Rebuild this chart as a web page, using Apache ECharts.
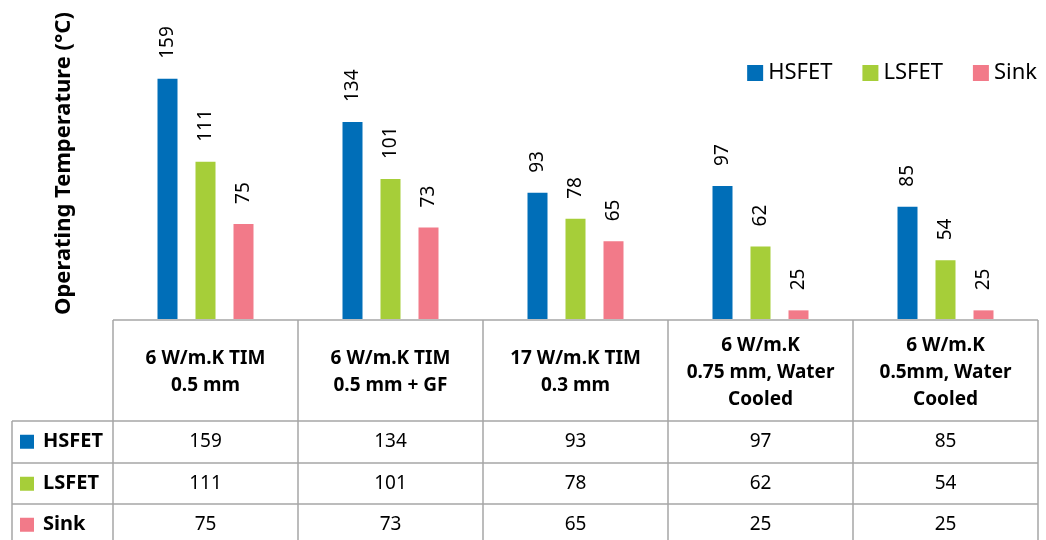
<!DOCTYPE html>
<html>
<head>
<meta charset="utf-8">
<script src="https://cdn.jsdelivr.net/npm/echarts@6/dist/echarts.min.js"></script>
<style>
  html, body { margin: 0; padding: 0; background: #fff; }
  #chart { width: 1046px; height: 540px; }
</style>
</head>
<body>
<div id="chart"></div>
<script>
// data
const categories = [
  '6 W/m.K TIM\n0.5 mm',
  '6 W/m.K TIM\n0.5 mm + GF',
  '17 W/m.K TIM\n0.3 mm',
  '6 W/m.K\n0.75 mm, Water\nCooled',
  '6 W/m.K\n0.5mm, Water\nCooled'
]
const seriesNames = ['HSFET', 'LSFET', 'Sink']
const hsfet = [159, 134, 93, 97, 85]
const lsfet = [111, 101, 78, 62, 54]
const sink = [75, 73, 65, 25, 25]
const colors = ['#006EB8', '#A6CE39', '#F27A89']

const FONT = 'Noto Sans'
const gridLeft = 113
const gridRight = 1038
const colW = (gridRight - gridLeft) / categories.length
const tableLeft = 12
const headerTop = 320
const rowTops = [421, 463, 504]
const rowH = 41.5
const lineColor = '#A6A6A6'

const chart = echarts.init(document.getElementById('chart'))

// 表格部分用 graphic 画
function buildTable() {
  const els = []
  const bottom = 545
  // horizontal lines
  els.push({ type: 'line', shape: { x1: gridLeft, y1: headerTop, x2: gridRight, y2: headerTop }, style: { stroke: lineColor, lineWidth: 1.5 } })
  rowTops.forEach(y => {
    els.push({ type: 'line', shape: { x1: tableLeft, y1: y, x2: gridRight, y2: y }, style: { stroke: lineColor, lineWidth: 1.5 } })
  })
  // vertical lines
  for (let i = 0; i <= categories.length; i++) {
    const x = gridLeft + i * colW
    els.push({ type: 'line', shape: { x1: x, y1: headerTop, x2: x, y2: bottom }, style: { stroke: lineColor, lineWidth: 1.5 } })
  }
  els.push({ type: 'line', shape: { x1: tableLeft, y1: rowTops[0], x2: tableLeft, y2: bottom }, style: { stroke: lineColor, lineWidth: 1.5 } })

  // header text
  categories.forEach((c, i) => {
    els.push({
      type: 'text',
      x: gridLeft + (i + 0.5) * colW,
      y: (headerTop + rowTops[0]) / 2 + 2,
      style: { text: c, font: `bold 19px "${FONT}"`, fill: '#000', align: 'center', verticalAlign: 'middle', lineHeight: 27 }
    })
  })

  // rows
  const rows = [hsfet, lsfet, sink]
  rows.forEach((vals, r) => {
    const cy = rowTops[r] + rowH / 2
    els.push({ type: 'rect', shape: { x: 20, y: cy - 7, width: 14, height: 14 }, style: { fill: colors[r] } })
    els.push({
      type: 'text', x: 43, y: cy,
      style: { text: seriesNames[r], font: `bold 20px "${FONT}"`, fill: '#000', align: 'left', verticalAlign: 'middle' }
    })
    vals.forEach((v, i) => {
      els.push({
        type: 'text', x: gridLeft + (i + 0.5) * colW, y: cy,
        style: { text: String(v), font: `19px "${FONT}"`, fill: '#000', align: 'center', verticalAlign: 'middle' }
      })
    })
  })
  return els
}

const barLabel = {
  show: true,
  position: 'top',
  rotate: 90,
  align: 'left',
  verticalAlign: 'middle',
  distance: 20,
  fontFamily: FONT,
  fontSize: 19,
  color: '#000'
}

const option = {
  animation: false,
  textStyle: { fontFamily: FONT },
  legend: {
    right: 4,
    top: 57,
    icon: 'rect',
    itemWidth: 16,
    itemHeight: 16,
    itemGap: 30,
    textStyle: { fontSize: 22, color: '#000', fontFamily: FONT },
    data: seriesNames
  },
  grid: { left: gridLeft, right: 1046 - gridRight, top: 8, bottom: 540 - 319 },
  xAxis: {
    type: 'category',
    data: categories,
    axisLine: { show: false },
    axisTick: { show: false },
    axisLabel: { show: false }
  },
  yAxis: {
    type: 'value',
    min: 20,
    max: 200,
    axisLine: { show: false },
    axisTick: { show: false },
    axisLabel: { show: false },
    splitLine: { show: false },
    name: 'Operating Temperature (°C)',
    nameLocation: 'middle',
    nameGap: 38,
    nameRotate: 90,
    nameTextStyle: { fontSize: 22, fontWeight: 'bold', color: '#000', fontFamily: FONT }
  },
  series: [
    { name: seriesNames[0], type: 'bar', data: hsfet, barWidth: 20, barGap: '90%', itemStyle: { color: colors[0] }, label: barLabel },
    { name: seriesNames[1], type: 'bar', data: lsfet, barWidth: 20, barGap: '90%', itemStyle: { color: colors[1] }, label: barLabel },
    { name: seriesNames[2], type: 'bar', data: sink, barWidth: 20, barGap: '90%', itemStyle: { color: colors[2] }, label: barLabel }
  ],
  graphic: buildTable()
}

chart.setOption(option)
</script>
</body>
</html>
